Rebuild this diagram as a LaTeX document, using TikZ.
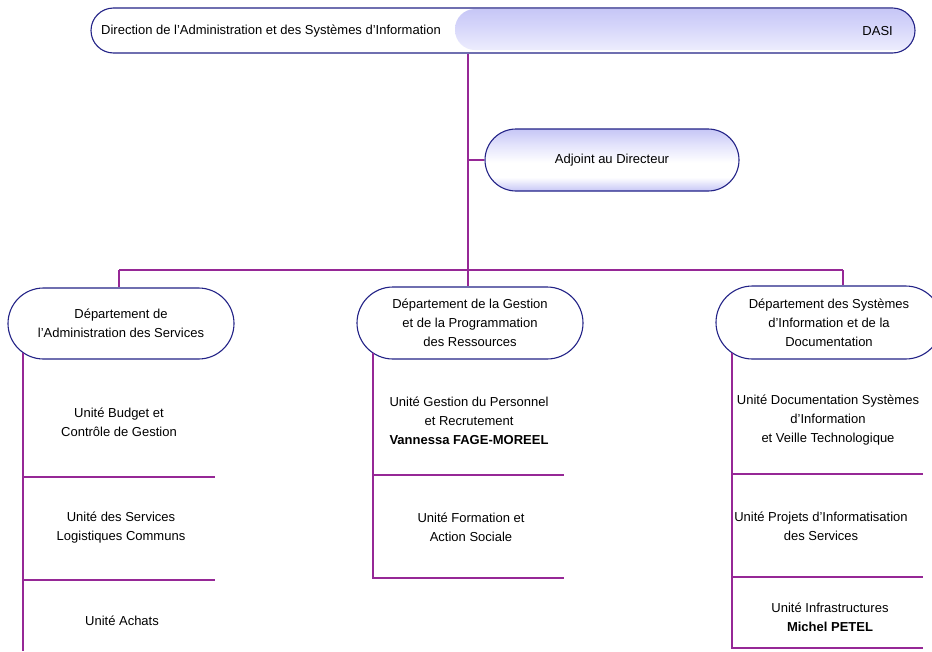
\documentclass[tikz,border=0pt]{standalone}
\usepackage{fontspec}
\setmainfont{Liberation Sans}
\usetikzlibrary{shapes.misc}

\definecolor{frame}{RGB}{35,35,135}
\definecolor{wirecol}{RGB}{150,40,150}
\definecolor{lavA}{RGB}{198,198,246}
\definecolor{lavB}{RGB}{228,228,252}
\definecolor{lavC}{RGB}{213,213,250}
\definecolor{lavD}{RGB}{240,240,254}

% glossy fill of the deputy box: lavender top and bottom, white band below the middle
\pgfdeclareverticalshading{gloss}{100bp}{color(0bp)=(lavA); color(25bp)=(lavA); color(36bp)=(white); color(48bp)=(white); color(62bp)=(lavB); color(75bp)=(lavA); color(100bp)=(lavA)}
% band on the right half of the direction banner
\pgfdeclareverticalshading{bandshade}{100bp}{color(0bp)=(lavD); color(25bp)=(lavD); color(55bp)=(lavC); color(75bp)=(lavA); color(100bp)=(lavA)}

\begin{document}
\begin{tikzpicture}[x=1pt,y=-1pt,
  txt/.style={font=\fontsize{13}{19}\selectfont, align=center, inner sep=0pt},
  pill/.style={rounded rectangle, draw=frame, line width=1.1pt, fill=white,
               inner sep=0pt, font=\fontsize{13}{19}\selectfont, align=center},
  link/.style={draw=wirecol, line width=1.1pt}]

\clip (0,0) rectangle (932,651);
\fill[white] (0,0) rectangle (932,651);

% ---- direction banner
\node[pill, minimum width=824pt, minimum height=45pt,
  path picture={\shade[shading=bandshade, rounded corners=20pt]
    ([xshift=364pt,yshift=-1pt]path picture bounding box.north west)
    rectangle ([xshift=10pt,yshift=3pt]path picture bounding box.south east);}]
  (dasi) at (503,30.5) {};
\node[txt, anchor=west] (dasiname) at (101,31) {Direction de l’Administration et des Systèmes d’Information};
\node[txt, anchor=east] (dasiabbr) at (893,31) {DASI};

% ---- deputy
\node[pill, shade, shading=gloss, minimum width=254pt, minimum height=62pt]
  (adj) at (612,160) {Adjoint au Directeur};

% ---- departments
\node[pill, minimum width=226pt, minimum height=71pt] (d1) at (121,323.5)
  {Département de\\l’Administration des Services};
\node[pill, minimum width=226pt, minimum height=72pt] (d2) at (470,323)
  {Département de la Gestion\\et de la Programmation\\des Ressources};
\node[pill, minimum width=226pt, minimum height=73pt] (d3) at (829,322.5)
  {Département des Systèmes\\d’Information et de la\\Documentation};

% ---- trunk and bus
\coordinate (bus) at (468,270);
\coordinate (busL) at (119,270);
\coordinate (busR) at (843,270);
\draw[link] (dasi.south -| bus) -- (bus);
\draw[link] (adj.west) -- (adj.west -| bus);
\draw[link] (busL) -- (busR);
\draw[link] (busL) -- (busL |- d1.north);
\draw[link] (bus) -- (bus |- d2.north);
\draw[link] (busR) -- (busR |- d3.north);

% ---- unit columns
\coordinate (k1) at (23,353);  \coordinate (k1e) at (23,651);
\coordinate (k2) at (373,353); \coordinate (k2e) at (373,579);
\coordinate (k3) at (732,353); \coordinate (k3e) at (732,648.5);
\draw[link] (k1) -- (k1e);
\draw[link] (k2) -- (k2e);
\draw[link] (k3) -- (k3e);

\coordinate (r1a) at (215,477); \coordinate (r1b) at (215,580);
\draw[link] (k1 |- r1a) -- (r1a);
\draw[link] (k1 |- r1b) -- (r1b);
\coordinate (r2a) at (564,475); \coordinate (r2b) at (564,578);
\draw[link] (k2 |- r2a) -- (r2a);
\draw[link] (k2 |- r2b) -- (r2b);
\coordinate (r3a) at (923,474); \coordinate (r3b) at (923,577); \coordinate (r3c) at (923,648);
\draw[link] (k3 |- r3a) -- (r3a);
\draw[link] (k3 |- r3b) -- (r3b);
\draw[link] (k3 |- r3c) -- (r3c);

% ---- units
\node[txt] (u11) at (119,422) {Unité Budget et\\Contrôle de Gestion};
\node[txt] (u12) at (121,528) {Unité des Services\\Logistiques Communs};
\node[txt] (u13) at (122,621) {Unité Achats};

\node[txt] (u21) at (469,421) {Unité Gestion du Personnel\\et Recrutement\\\textbf{Vannessa FAGE-MOREEL}};
\node[txt] (u22) at (471,527) {Unité Formation et\\Action Sociale};

\node[txt] (u31) at (828,420) {Unité Documentation Systèmes\\d’Information\\et Veille Technologique};
\node[txt] (u32) at (821,526) {Unité Projets d’Informatisation\\des Services};
\node[txt] (u33) at (830,617) {Unité Infrastructures\\\textbf{Michel PETEL}};

\end{tikzpicture}
\end{document}
